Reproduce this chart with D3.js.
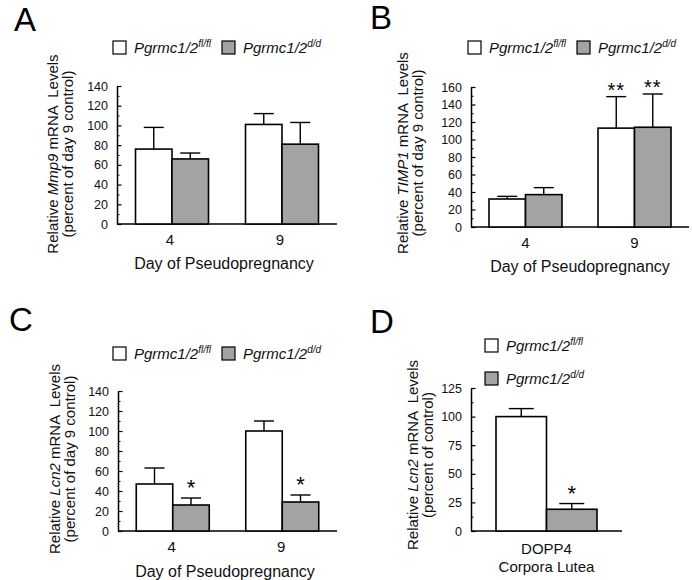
<!DOCTYPE html>
<html><head><meta charset="utf-8">
<script src="https://cdn.jsdelivr.net/npm/d3@7"></script>
<style>body{margin:0;background:#fff}svg{display:block;font-family:"Liberation Sans",Arial,sans-serif}</style>
</head><body><svg id="c" width="692" height="580"></svg>
<script>
// ---- data ----
const seriesNames = ["Pgrmc1/2", "Pgrmc1/2"];
const seriesSup = ["fl/fl", "d/d"];
const seriesColors = ["#ffffff", "#a3a3a6"];

const dayCategories = ["4", "9"];

const mmp9Flfl = [76, 101];
const mmp9FlflErr = [22, 11];
const mmp9Dd = [66, 81];
const mmp9DdErr = [6, 22];

const timp1Flfl = [32, 113];
const timp1FlflErr = [3, 36];
const timp1Dd = [37, 114];
const timp1DdErr = [8, 38];
const timp1FlflSig = ["", "**"];
const timp1DdSig = ["", "**"];

const lcn2Flfl = [47, 100];
const lcn2FlflErr = [16, 10];
const lcn2Dd = [26, 29];
const lcn2DdErr = [7, 7];
const lcn2DdSig = ["*", "*"];

const dCategories = ["DOPP4"];
const dLcn2Flfl = [100];
const dLcn2FlflErr = [7];
const dLcn2Dd = [19];
const dLcn2DdErr = [5];
const dLcn2DdSig = ["*"];

const ticksA = [0,20,40,60,80,100,120,140];
const ticksB = [0,20,40,60,80,100,120,140,160];
const ticksC = [0,20,40,60,80,100,120,140];
const ticksD = [0,25,50,75,100,125];

const svg = d3.select("#c");

function panel(o) {
  const g = svg.append("g");
  const y = d3.scaleLinear().domain([0, o.max]).range([o.y0, o.y1]);
  const x = d3.scaleBand().domain(o.cats).range([o.x0, o.x1]).padding(0);
  // minor ticks
  const minor = [];
  for (let i = 0; i < o.ticks.length - 1; i++) minor.push((o.ticks[i] + o.ticks[i+1]) / 2);
  g.append("g").attr("transform", `translate(${o.x0},0)`)
    .call(d3.axisLeft(y).tickValues(minor).tickSizeInner(-2.5).tickSizeOuter(0).tickFormat(""))
    .call(s => s.select(".domain").remove())
    .call(s => s.selectAll("line").attr("stroke", "#000").attr("stroke-width", 1));
  const ax = g.append("g").attr("transform", `translate(${o.x0},0)`)
    .call(d3.axisLeft(y).tickValues(o.ticks).tickSizeInner(-4.5).tickSizeOuter(0).tickPadding(9));
  ax.select(".domain").attr("stroke", "#000").attr("stroke-width", 1.5);
  ax.selectAll("line").attr("stroke", "#000").attr("stroke-width", 1.2);
  ax.selectAll("text").attr("font-size", 12.5).attr("fill", "#111").attr("font-family", "Liberation Sans, Arial, sans-serif");
  // x axis line
  g.append("line").attr("x1", o.x0).attr("x2", o.x1).attr("y1", y(0)).attr("y2", y(0))
    .attr("stroke", "#000").attr("stroke-width", 1.5);
  // bars
  const bw = o.bw;
  [0, 1].forEach(si => {
    o.cats.forEach((c, ci) => {
      const cx = x(c) + x.bandwidth() / 2;
      const bx = si === 0 ? cx - bw : cx;
      const v = o.vals[si][ci], e = o.errs[si][ci];
      const mid = bx + bw / 2;
      g.append("line").attr("x1", mid).attr("x2", mid).attr("y1", y(v)).attr("y2", y(v + e))
        .attr("stroke", "#000").attr("stroke-width", 1.4);
      g.append("line").attr("x1", mid - o.cap/2).attr("x2", mid + o.cap/2).attr("y1", y(v + e)).attr("y2", y(v + e))
        .attr("stroke", "#000").attr("stroke-width", 1.4);
      g.append("rect").attr("x", bx).attr("y", y(v)).attr("width", bw).attr("height", y(0) - y(v))
        .attr("fill", seriesColors[si]).attr("stroke", "#000").attr("stroke-width", 1.6);
      const sig = o.sigs[si] ? o.sigs[si][ci] : "";
      if (sig) {
        g.append("text").attr("x", mid).attr("y", y(v + e) - 3 + (sig.length > 1 ? 3 : 0)).attr("text-anchor", "middle")
          .attr("font-size", sig.length > 1 ? 20 : 22).attr("letter-spacing", sig.length > 1 ? 1 : 0).text(sig);
      }
    });
  });
  // category labels
  o.catLabels.forEach((lines, ci) => {
    const cx = x(o.cats[ci]) + x.bandwidth() / 2 + o.catDx;
    lines.forEach((t, li) => {
      g.append("text").attr("x", cx).attr("y", o.catY + li * o.catDY).attr("text-anchor", "middle")
        .attr("font-size", o.catFS).attr("fill", "#111").text(t);
    });
  });
  if (o.xTitle) {
    g.append("text").attr("x", (o.x0 + o.x1) / 2 + o.xTitleDx).attr("y", o.xTitleY).attr("text-anchor", "middle")
      .attr("font-size", 16).attr("fill", "#111").text(o.xTitle);
  }
  // y title
  const yt = g.append("text").attr("transform", `translate(${o.ytX},${o.ytY}) rotate(-90)`)
    .attr("text-anchor", "middle").attr("font-size", 15).attr("fill", "#111").style("white-space", "pre");
  yt.append("tspan").text("Relative ");
  yt.append("tspan").attr("font-style", "italic").text(o.gene);
  yt.append("tspan").text(" mRNA  Levels");
  g.append("text").attr("transform", `translate(${o.ytX + o.ytDX},${o.ytY}) rotate(-90)`)
    .attr("text-anchor", "middle").attr("font-size", 15).attr("fill", "#111").text(o.yt2);
  // letter
  g.append("text").attr("x", o.lx).attr("y", o.ly).attr("font-size", 33).attr("fill", "#000").text(o.letter);
  // legend
  o.legend.forEach((p, i) => {
    g.append("rect").attr("x", p[0]).attr("y", p[1]).attr("width", 13).attr("height", 13)
      .attr("fill", seriesColors[i]).attr("stroke", "#000").attr("stroke-width", 1.2);
    const t = g.append("text").attr("x", p[0] + 21).attr("y", p[1] + 12).attr("font-size", 15)
      .attr("font-style", "italic").attr("fill", "#111");
    t.append("tspan").text(seriesNames[i]);
    t.append("tspan").attr("font-size", 10).attr("dy", -6).text(seriesSup[i]);
  });
}

panel({letter:"A", lx:14, ly:31, x0:117, x1:337, y0:224, y1:86, max:140, ticks:ticksA, cats:dayCategories,
  vals:[mmp9Flfl, mmp9Dd], errs:[mmp9FlflErr, mmp9DdErr], sigs:[null, null], bw:36.5, cap:20,
  catLabels:[["4"],["9"]], catDx:-2, catY:245, catDY:0, catFS:15, xTitle:"Day of Pseudopregnancy", xTitleY:269, xTitleDx:-3,
  gene:"Mmp9", yt2:"(percent of day 9 control)", ytX:58, ytDX:15, ytY:154, legend:[[113,41],[222,41]]});

panel({letter:"B", lx:370, ly:29, x0:471, x1:689, y0:227, y1:87, max:160, ticks:ticksB, cats:dayCategories,
  vals:[timp1Flfl, timp1Dd], errs:[timp1FlflErr, timp1DdErr], sigs:[timp1FlflSig, timp1DdSig], bw:36.5, cap:20,
  catLabels:[["4"],["9"]], catDx:0, catY:248, catDY:0, catFS:15, xTitle:"Day of Pseudopregnancy", xTitleY:272, xTitleDx:0,
  gene:"TIMP1", yt2:"(percent of day 9 control)", ytX:408, ytDX:15, ytY:153, legend:[[468,41],[577,41]]});

panel({letter:"C", lx:9, ly:331, x0:118, x1:337, y0:531, y1:391, max:140, ticks:ticksC, cats:dayCategories,
  vals:[lcn2Flfl, lcn2Dd], errs:[lcn2FlflErr, lcn2DdErr], sigs:[null, lcn2DdSig], bw:36.5, cap:20,
  catLabels:[["4"],["9"]], catDx:-1, catY:552, catDY:0, catFS:15, xTitle:"Day of Pseudopregnancy", xTitleY:577, xTitleDx:-2.5,
  gene:"Lcn2", yt2:"(percent of day 9 control)", ytX:60, ytDX:15, ytY:459, legend:[[113,347],[222,347]]});

panel({letter:"D", lx:370, ly:333, x0:471, x1:622, y0:531, y1:388, max:125, ticks:ticksD, cats:dCategories,
  vals:[dLcn2Flfl, dLcn2Dd], errs:[dLcn2FlflErr, dLcn2DdErr], sigs:[null, dLcn2DdSig], bw:50.5, cap:25,
  catLabels:[["DOPP4","Corpora Lutea"]], catDx:0, catY:554, catDY:18, catFS:15, xTitle:null,
  gene:"Lcn2", yt2:"(percent of control)", ytX:418, ytDX:15, ytY:455, legend:[[485,339],[485,372]]});
</script></body></html>
